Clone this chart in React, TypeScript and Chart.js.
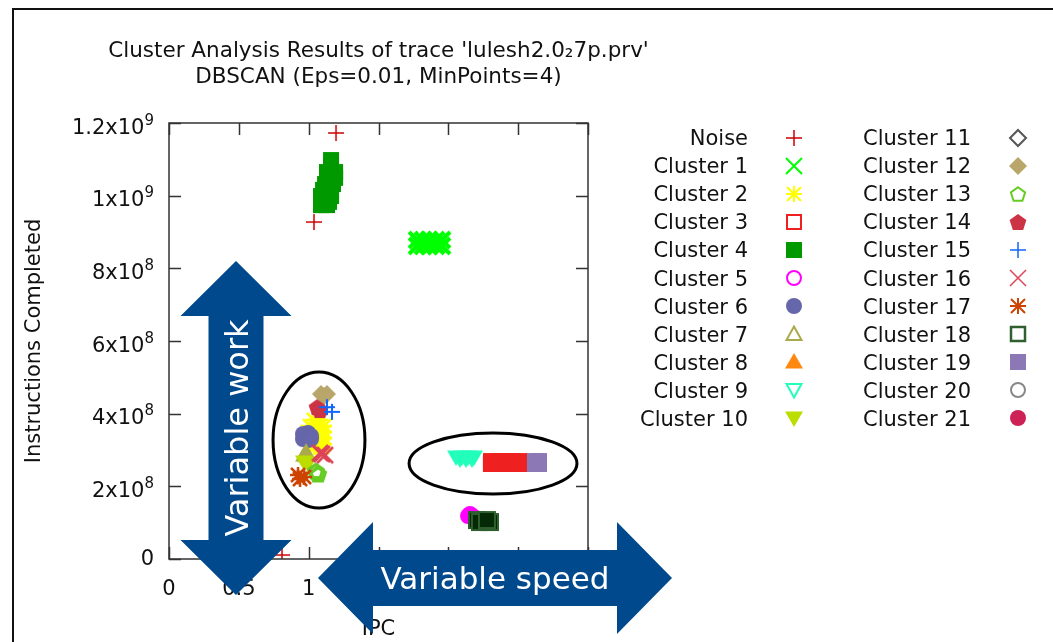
import React, { useEffect, useRef } from 'react';
import { Chart, registerables } from 'chart.js';

Chart.register(...registerables);

type P = [number, number];

// ---------- texts ----------
const titleLines = ["Cluster Analysis Results of trace 'lulesh2.0₂7p.prv'", 'DBSCAN (Eps=0.01, MinPoints=4)'];
const xTitle = 'IPC';
const yTitle = 'Instructions Completed';
const xTickLabels = ['0', '0.5', '1', '1.5', '2', '2.5', '3'];
const yTickMantissa = ['0', '2x10', '4x10', '6x10', '8x10', '1x10', '1.2x10'];
const yTickExponent = ['', '8', '8', '8', '8', '9', '9'];
const workLabel = 'Variable work';
const speedLabel = 'Variable speed';

const seriesNames = [
  'Noise', 'Cluster 1', 'Cluster 2', 'Cluster 3', 'Cluster 4', 'Cluster 5', 'Cluster 6', 'Cluster 7',
  'Cluster 8', 'Cluster 9', 'Cluster 10', 'Cluster 11', 'Cluster 12', 'Cluster 13', 'Cluster 14',
  'Cluster 15', 'Cluster 16', 'Cluster 17', 'Cluster 18', 'Cluster 19', 'Cluster 20', 'Cluster 21',
];

// ---------- data (IPC, instructions completed) ----------
const noise: P[] = [[1.196, 1.1725e9], [1.038, 0.9275e9], [0.809, 0.011e9]];
const cluster1: P[] = [
  [1.776, 0.878e9], [1.819, 0.878e9], [1.862, 0.878e9], [1.912, 0.878e9], [1.955, 0.878e9],
  [1.797, 0.8697e9], [1.883, 0.8697e9], [1.933, 0.8697e9],
  [1.776, 0.8615e9], [1.819, 0.8615e9], [1.862, 0.8615e9], [1.912, 0.8615e9], [1.955, 0.8615e9],
];
const cluster2: P[] = [
  [1.038, 0.3826e9], [1.081, 0.3826e9],
  [1.01, 0.366e9], [1.067, 0.366e9], [1.11, 0.366e9],
  [0.995, 0.3495e9], [1.052, 0.3495e9], [1.11, 0.3495e9],
  [1.024, 0.333e9], [1.081, 0.333e9], [1.11, 0.333e9],
  [1.01, 0.3165e9], [1.067, 0.3165e9], [1.11, 0.3165e9],
  [1.038, 0.308e9], [1.095, 0.308e9],
];
const cluster3: P[] = [
  [2.305, 0.2697e9], [2.356, 0.2697e9], [2.406, 0.2697e9], [2.456, 0.2697e9], [2.506, 0.2697e9],
  [2.305, 0.2615e9], [2.356, 0.2615e9], [2.406, 0.2615e9], [2.456, 0.2615e9], [2.506, 0.2615e9],
];
const cluster4: P[] = [
  [1.16, 1.098e9], [1.16, 1.082e9],
  [1.131, 1.065e9], [1.189, 1.065e9], [1.131, 1.049e9], [1.189, 1.049e9],
  [1.117, 1.032e9], [1.174, 1.032e9], [1.103, 1.016e9], [1.16, 1.016e9],
  [1.088, 0.999e9], [1.16, 0.999e9], [1.088, 0.983e9], [1.146, 0.983e9],
  [1.088, 0.974e9], [1.131, 0.974e9],
];
const cluster5: P[] = [[2.141, 0.1183e9], [2.184, 0.1156e9], [2.155, 0.124e9]];
const cluster6: P[] = [
  [0.959, 0.344e9], [0.995, 0.3468e9], [1.017, 0.3385e9],
  [0.959, 0.33e9], [0.995, 0.3275e9], [1.017, 0.33e9],
];
const cluster7: P[] = [[0.981, 0.2945e9], [0.981, 0.286e9], [0.967, 0.286e9]];
const cluster8: P[] = [];
const cluster9: P[] = [
  [2.055, 0.2807e9], [2.098, 0.2807e9], [2.141, 0.2807e9], [2.184, 0.2807e9],
  [2.083, 0.2752e9], [2.126, 0.2752e9], [2.169, 0.2752e9],
];
const cluster10: P[] = [[0.967, 0.267e9], [0.995, 0.264e9]];
const cluster11: P[] = [];
const cluster12: P[] = [[1.088, 0.454e9], [1.131, 0.454e9], [1.11, 0.4486e9]];
const cluster13: P[] = [[1.052, 0.242e9], [1.067, 0.234e9]];
const cluster14: P[] = [[1.06, 0.418e9], [1.081, 0.41e9]];
const cluster15: P[] = [[1.131, 0.418e9], [1.167, 0.405e9]];
const cluster16: P[] = [[1.081, 0.2917e9], [1.117, 0.286e9], [1.095, 0.289e9]];
const cluster17: P[] = [[0.924, 0.2312e9], [0.967, 0.2257e9], [0.938, 0.2202e9]];
const cluster18: P[] = [
  [2.205, 0.1073e9], [2.255, 0.1046e9], [2.298, 0.1018e9], [2.226, 0.1018e9], [2.276, 0.1073e9],
];
const cluster19: P[] = [[2.62, 0.2697e9], [2.649, 0.2697e9], [2.62, 0.2615e9], [2.649, 0.2615e9]];
const cluster20: P[] = [];
const cluster21: P[] = [];

const seriesData: P[][] = [
  noise, cluster1, cluster2, cluster3, cluster4, cluster5, cluster6, cluster7, cluster8, cluster9,
  cluster10, cluster11, cluster12, cluster13, cluster14, cluster15, cluster16, cluster17, cluster18,
  cluster19, cluster20, cluster21,
];

// annotation ellipses (centre x, centre y, half width, half height) in data units
const ellipseLeft = [1.074, 0.3275e9, 0.329, 0.187e9];
const ellipseRight = [2.32, 0.2628e9, 0.601, 0.0839e9];
// annotation arrows (x1, y1, x2, y2) in data units
const arrowWork = [0.4797, 0.8202e9, 0.4797, -0.0991e9];
const arrowSpeed = [1.0668, -0.0523e9, 3.6014, -0.0523e9];

// ---------- styles ----------
const FONT = "'DejaVu Sans', 'Noto Sans', sans-serif";
const seriesColors = [
  '#cc0000', '#00ff00', '#ffff00', '#ee2020', '#009900', '#ff00ff', '#6666aa', '#aaaa4c',
  '#ff8811', '#22ffbb', '#bbdd00', '#555555', '#b8a66a', '#66cc22', '#cc3344', '#1166ff',
  '#dd4455', '#cc4400', '#2f5f2f', '#8c78b4', '#888888', '#cc2255',
];
const legendMarks = [
  'plus', 'cross', 'star', 'square', 'squareF', 'circle', 'circleF', 'tri', 'triF', 'itri', 'itriF',
  'diamond', 'diamondF', 'pent', 'pentF', 'plus', 'cross', 'star', 'square', 'squareF', 'circle', 'circleF',
];
const plotMarks = [
  'plus', 'cross', 'star', 'squareF', 'squareF', 'circleF', 'circleF', 'triF', 'triF', 'itriF', 'itriF',
  'diamond', 'diamondF', 'pent', 'pentF', 'plus', 'cross', 'star', 'squareDark', 'squareF', 'circle', 'circleF',
];
const plotWidths = [1.5, 4, 2.5, 2, 2, 2, 2, 2, 2, 2, 2, 2, 2, 3.5, 2, 2, 2.5, 2.5, 2, 2, 2, 2];
const legendWidths = [1.5, 2, 2, 2, 2, 2, 2, 2, 2, 2, 2, 2, 2, 2, 2, 1.5, 1.5, 2, 2.5, 2, 2, 2];

function makeMarker(kind: string, color: string, lw: number): HTMLCanvasElement {
  const S = 26;
  const c = document.createElement('canvas');
  c.width = S;
  c.height = S;
  const g = c.getContext('2d')!;
  g.translate(S / 2, S / 2);
  g.lineWidth = lw;
  g.strokeStyle = color;
  g.fillStyle = color;
  g.lineJoin = 'miter';
  const h = 8;
  const poly = (pts: number[][], fill: boolean) => {
    g.beginPath();
    pts.forEach((p, i) => (i ? g.lineTo(p[0], p[1]) : g.moveTo(p[0], p[1])));
    g.closePath();
    if (fill) g.fill();
    else g.stroke();
  };
  const pent = (r: number) => {
    const pts: number[][] = [];
    for (let k = 0; k < 5; k++) {
      const a = -Math.PI / 2 + (k * 2 * Math.PI) / 5;
      pts.push([r * Math.cos(a), r * Math.sin(a) + 0.8]);
    }
    return pts;
  };
  switch (kind) {
    case 'plus':
      g.beginPath();
      g.moveTo(-h, 0); g.lineTo(h, 0); g.moveTo(0, -h); g.lineTo(0, h);
      g.stroke();
      break;
    case 'cross':
      g.beginPath();
      g.moveTo(-h, -h); g.lineTo(h, h); g.moveTo(h, -h); g.lineTo(-h, h);
      g.stroke();
      break;
    case 'star':
      g.beginPath();
      g.moveTo(-h, 0); g.lineTo(h, 0); g.moveTo(0, -h); g.lineTo(0, h);
      g.moveTo(-7, -7); g.lineTo(7, 7); g.moveTo(7, -7); g.lineTo(-7, 7);
      g.stroke();
      break;
    case 'square':
      g.strokeRect(-7, -7, 14, 14);
      break;
    case 'squareF':
      g.fillRect(-8, -8, 16, 16);
      break;
    case 'squareDark':
      g.fillStyle = color;
      g.fillRect(-9, -9, 18, 18);
      g.fillStyle = '#052805';
      g.fillRect(-7, -7, 14, 14);
      break;
    case 'circle':
      g.beginPath(); g.arc(0, 0, 7, 0, Math.PI * 2); g.stroke();
      break;
    case 'circleF':
      g.beginPath(); g.arc(0, 0, 8, 0, Math.PI * 2); g.fill();
      break;
    case 'tri':
      poly([[0, -7.5], [7.5, 6], [-7.5, 6]], false);
      break;
    case 'triF':
      poly([[0, -9], [9, 6.5], [-9, 6.5]], true);
      break;
    case 'itri':
      poly([[0, 7.5], [7.5, -6], [-7.5, -6]], false);
      break;
    case 'itriF':
      poly([[0, 9], [9, -6.5], [-9, -6.5]], true);
      break;
    case 'diamond':
      poly([[0, -8], [8, 0], [0, 8], [-8, 0]], false);
      break;
    case 'diamondF':
      poly([[0, -9], [9, 0], [0, 9], [-9, 0]], true);
      break;
    case 'pent':
      poly(pent(7.5), false);
      break;
    case 'pentF':
      poly(pent(8.8), true);
      break;
  }
  return c;
}

function drawArrow(ctx: CanvasRenderingContext2D, x1: number, y1: number, x2: number, y2: number,
  sh: number, hh: number, hl: number, color: string) {
  const L = Math.hypot(x2 - x1, y2 - y1);
  const ux = (x2 - x1) / L, uy = (y2 - y1) / L;
  const nx = -uy, ny = ux;
  const ax = x1 + ux * hl, ay = y1 + uy * hl;
  const bx = x2 - ux * hl, by = y2 - uy * hl;
  ctx.beginPath();
  ctx.moveTo(x1, y1);
  ctx.lineTo(ax + nx * hh, ay + ny * hh);
  ctx.lineTo(ax + nx * sh, ay + ny * sh);
  ctx.lineTo(bx + nx * sh, by + ny * sh);
  ctx.lineTo(bx + nx * hh, by + ny * hh);
  ctx.lineTo(x2, y2);
  ctx.lineTo(bx - nx * hh, by - ny * hh);
  ctx.lineTo(bx - nx * sh, by - ny * sh);
  ctx.lineTo(ax - nx * sh, ay - ny * sh);
  ctx.lineTo(ax - nx * hh, ay - ny * hh);
  ctx.closePath();
  ctx.fillStyle = color;
  ctx.fill();
}

export default function App() {
  const ref = useRef<HTMLCanvasElement>(null);

  useEffect(() => {
    const plotImgs = seriesColors.map((c, i) => makeMarker(plotMarks[i], c, plotWidths[i]));
    const legendImgs = seriesColors.map((c, i) => makeMarker(legendMarks[i], c, legendWidths[i]));

    const decor = {
      id: 'decor',
      afterDraw(chart: any) {
        const { ctx, chartArea: a } = chart;
        const xs = chart.scales.x;
        const ys = chart.scales.y;
        ctx.save();
        // plot border and inward mirrored ticks
        ctx.strokeStyle = '#333';
        ctx.lineWidth = 1.5;
        ctx.strokeRect(a.left, a.top, a.right - a.left, a.bottom - a.top);
        ctx.beginPath();
        xs.ticks.forEach((t: any) => {
          const px = Math.round(xs.getPixelForValue(t.value)) + 0.5;
          ctx.moveTo(px, a.bottom); ctx.lineTo(px, a.bottom - 12);
          ctx.moveTo(px, a.top); ctx.lineTo(px, a.top + 12);
        });
        ys.ticks.forEach((t: any) => {
          const py = Math.round(ys.getPixelForValue(t.value)) + 0.5;
          ctx.moveTo(a.left, py); ctx.lineTo(a.left + 12, py);
          ctx.moveTo(a.right, py); ctx.lineTo(a.right - 12, py);
        });
        ctx.stroke();

        // y tick labels with superscript exponents
        ctx.fillStyle = '#111';
        ctx.textBaseline = 'alphabetic';
        ys.ticks.forEach((t: any, i: number) => {
          const py = ys.getPixelForValue(t.value);
          const right = a.left - 15;
          const exp = yTickExponent[i] || '';
          ctx.font = `15px ${FONT}`;
          const ew = exp ? ctx.measureText(exp).width : 0;
          const base = py + 7.7 + (exp ? 3 : -1.5);
          ctx.textAlign = 'left';
          if (exp) ctx.fillText(exp, right - ew, base - 9);
          ctx.font = `21px ${FONT}`;
          ctx.textAlign = 'right';
          ctx.fillText(yTickMantissa[i] || '', right - ew, base);
        });

        // ellipses
        ctx.strokeStyle = '#000';
        ctx.lineWidth = 3;
        [ellipseLeft, ellipseRight].forEach((e) => {
          const cx = xs.getPixelForValue(e[0]);
          const cy = ys.getPixelForValue(e[1]);
          const rx = Math.abs(xs.getPixelForValue(e[0] + e[2]) - cx);
          const ry = Math.abs(ys.getPixelForValue(e[1] + e[3]) - cy);
          ctx.beginPath();
          ctx.ellipse(cx, cy, rx, ry, 0, 0, Math.PI * 2);
          ctx.stroke();
        });

        // legend (two columns: label then symbol)
        ctx.font = `21px ${FONT}`;
        ctx.textAlign = 'right';
        ctx.textBaseline = 'alphabetic';
        seriesNames.forEach((name, i) => {
          const col = i < 11 ? 0 : 1;
          const row = i % 11;
          const yy = 137.5 + row * 28.07;
          const tx = col ? 971 : 748;
          const sx = col ? 1018 : 794;
          ctx.fillStyle = '#111';
          ctx.fillText(name, tx, yy + 0.365 * 21);
          const img = legendImgs[i];
          ctx.drawImage(img, Math.round(sx - img.width / 2), Math.round(yy - img.height / 2));
        });

        // arrows
        const blue = '#00498c';
        const w1 = arrowWork.map((v, k) => (k % 2 === 0 ? xs.getPixelForValue(v) : ys.getPixelForValue(v)));
        const w2 = arrowSpeed.map((v, k) => (k % 2 === 0 ? xs.getPixelForValue(v) : ys.getPixelForValue(v)));
        drawArrow(ctx, w1[0], w1[1], w1[2], w1[3], 27.5, 55.5, 55, blue);
        drawArrow(ctx, w2[0], w2[1], w2[2], w2[3], 28, 56, 55, blue);
        ctx.fillStyle = '#fff';
        ctx.textAlign = 'center';
        ctx.textBaseline = 'alphabetic';
        ctx.font = `31px ${FONT}`;
        ctx.fillText(speedLabel, (w2[0] + w2[2]) / 2, w2[1] + 0.365 * 31);
        ctx.save();
        ctx.translate(w1[0], (w1[1] + w1[3]) / 2);
        ctx.rotate(-Math.PI / 2);
        ctx.font = `32px ${FONT}`;
        ctx.fillText(workLabel, 0, 0.365 * 32);
        ctx.restore();

        // slide frame
        ctx.strokeStyle = '#111';
        ctx.lineWidth = 2;
        ctx.beginPath();
        ctx.moveTo(13, 642); ctx.lineTo(13, 9); ctx.lineTo(1053, 9);
        ctx.stroke();
        ctx.restore();
      },
    };

    const datasets = seriesData.map((pts, i) => ({
      label: seriesNames[i],
      data: pts.map(([x, y]) => ({ x, y })),
      pointStyle: plotImgs[i],
      pointRadius: 8,
      order: 40 - i,
      showLine: false,
      yAxisID: 'y',
    }));

    const chart = new Chart(ref.current!, {
      type: 'scatter',
      data: { datasets } as any,
      plugins: [decor],
      options: {
        responsive: false,
        animation: false,
        events: [],
        layout: { padding: { left: 0, right: 296, top: 0, bottom: 0 } },
        plugins: {
          legend: { display: false },
          tooltip: { enabled: false },
          title: {
            display: true,
            text: titleLines,
            color: '#111',
            font: { family: FONT, size: 21.5, weight: 'normal', lineHeight: 1.2326 },
            padding: { top: 37.75, bottom: 32.25 },
          },
        },
        scales: {
          x: {
            type: 'linear',
            min: 0,
            max: 3,
            afterFit: (s: any) => { s.height = 83; },
            grid: { display: false, drawTicks: false },
            border: { display: false },
            ticks: {
              stepSize: 0.5,
              padding: 18,
              color: '#111',
              font: { family: FONT, size: 21 },
              callback: (_v: any, i: number) => xTickLabels[i],
            },
            title: {
              display: true,
              text: xTitle,
              color: '#111',
              font: { family: FONT, size: 21 },
              padding: { top: 0, bottom: 0 },
            },
          },
          y: {
            type: 'linear',
            min: 0,
            max: 1.2e9,
            afterFit: (s: any) => { s.width = 169; },
            grid: { display: false, drawTicks: false },
            border: { display: false },
            ticks: { stepSize: 2e8, display: false },
            title: {
              display: true,
              text: yTitle,
              color: '#111',
              font: { family: FONT, size: 21 },
              padding: { top: 22, bottom: 0 },
            },
          },
          yRightSpace: {
            type: 'linear',
            position: 'right',
            min: 0,
            max: 1.2e9,
            afterFit: (s: any) => { s.width = 169; },
            grid: { display: false, drawTicks: false },
            border: { display: false },
            ticks: { display: false },
          },
        },
      } as any,
    });
    return () => chart.destroy();
  }, []);

  return (
    <div style={{ position: 'absolute', left: 0, top: 0, width: 1053, height: 642, background: '#fff' }}>
      <canvas ref={ref} width={1053} height={642} style={{ display: 'block', width: 1053, height: 642 }} />
    </div>
  );
}
